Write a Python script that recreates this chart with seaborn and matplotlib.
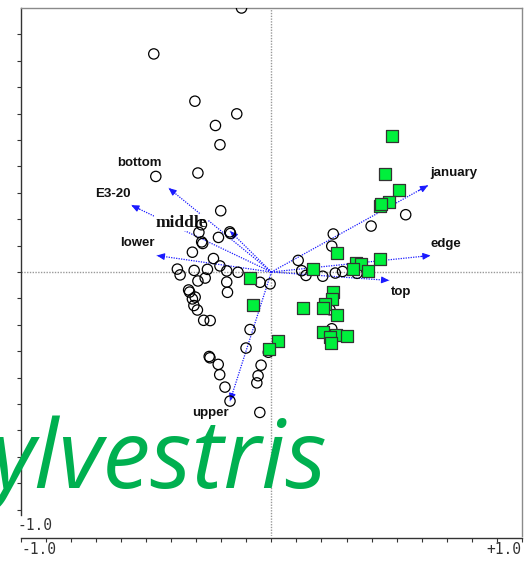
import matplotlib
matplotlib.use("Agg")
import matplotlib.pyplot as plt
import numpy as np
import pandas as pd
import seaborn as sns

# Sample scores, group 1 (open circles)
circle_x = [-0.119, -0.469, -0.305, -0.138, -0.223, -0.205, -0.461, -0.293, -0.202, -0.166,
            -0.163, -0.211, -0.279, -0.289, -0.278, -0.274, -0.315, -0.231, -0.205, -0.375,
            -0.308, -0.255, -0.178, -0.133, -0.364, -0.293, -0.264, -0.178, -0.175, -0.330,
            -0.326, -0.304, -0.315, -0.309, -0.295, -0.270, -0.244, -0.045, -0.005, -0.085,
            -0.101, -0.248, -0.245, -0.212, -0.206, -0.185, -0.165, -0.041, -0.053, -0.058,
            -0.046, -0.012, 0.536, 0.398, 0.247, 0.241, 0.107, 0.121, 0.138, 0.205,
            0.255, 0.284, 0.342, 0.234, 0.241]
circle_y = [1.000, 0.826, 0.647, 0.599, 0.555, 0.482, 0.362, 0.375, 0.232, 0.152,
            0.146, 0.131, 0.179, 0.150, 0.114, 0.108, 0.075, 0.051, 0.023, 0.011,
            0.006, 0.010, 0.004, -0.001, -0.011, -0.034, -0.023, -0.038, -0.077, -0.068,
            -0.076, -0.095, -0.102, -0.127, -0.144, -0.183, -0.184, -0.039, -0.045, -0.218,
            -0.288, -0.320, -0.325, -0.350, -0.389, -0.436, -0.489, -0.353, -0.393, -0.420,
            -0.532, -0.304, 0.217, 0.174, 0.144, 0.098, 0.044, 0.005, -0.013, -0.016,
            -0.004, 0.002, -0.005, -0.143, -0.215]

# Sample scores, group 2 (green squares)
square_x = [0.480, 0.452, 0.510, 0.470, 0.434, 0.439, 0.262, 0.433, 0.339, 0.359,
            0.326, 0.387, 0.166, 0.247, 0.241, 0.215, 0.205, 0.127, 0.262, 0.206,
            0.258, 0.232, 0.239, 0.300, 0.025, -0.011, -0.085, -0.073]
square_y = [0.514, 0.372, 0.309, 0.266, 0.250, 0.256, 0.071, 0.049, 0.033, 0.030,
            0.012, 0.004, 0.011, -0.076, -0.103, -0.122, -0.137, -0.136, -0.163, -0.228,
            -0.237, -0.248, -0.270, -0.243, -0.261, -0.290, -0.021, -0.124]

# Environmental variables (arrow tips)
var_names = ["january", "edge", "top", "upper", "lower", "E3-20", "bottom", "middle"]
var_x = [0.625, 0.635, 0.470, -0.165, -0.457, -0.559, -0.410, -0.165]
var_y = [0.328, 0.0625, -0.032, -0.489, 0.0625, 0.253, 0.318, 0.155]

# Label placement (pixel offsets from arrow tip, alignment)
label_layout = {
    "january": (2, 12, "left"),
    "edge": (0, 12, "left"),
    "top": (2, -12, "left"),
    "upper": (-20, -11.5, "center"),
    "lower": (-19, 12, "center"),
    "E3-20": (-18.5, 11.7, "center"),
    "bottom": (-29, 25.5, "center"),
    "middle": (-49, 8.5, "center"),
}

sns.set_style("white")

W, H = 529, 561
fig = plt.figure(figsize=(W / 100, H / 100), dpi=100)
ax = fig.add_axes([20.7 / W, 25 / H, 501.3 / W, 528 / H])

circles = pd.DataFrame({"x": circle_x, "y": circle_y})
squares = pd.DataFrame({"x": square_x, "y": square_y})

ax.axhline(0, color="#999999", lw=1, ls=(0, (1, 1)), zorder=1)
ax.axvline(0, color="#999999", lw=1, ls=(0, (1, 1)), zorder=1)

arrow_color = "#1a1aff"
for name, vx, vy in zip(var_names, var_x, var_y):
    ax.plot([0, vx], [0, vy], color=arrow_color, lw=0.9, ls=(0, (1, 1)), zorder=2)
    ax.annotate("", xy=(vx, vy), xytext=(vx * 0.94, vy * 0.94),
                arrowprops=dict(arrowstyle="-|>,head_length=0.45,head_width=0.2",
                                color=arrow_color, lw=0.8, shrinkA=0, shrinkB=0),
                zorder=2)
    dx, dy, ha = label_layout[name]
    if name == "middle":
        ax.annotate(name, xy=(vx, vy), xytext=(dx, dy), textcoords="offset pixels",
                    ha=ha, va="center", fontsize=12.5, fontweight="bold",
                    family="Liberation Serif", color="#111111", zorder=3,
                    bbox=dict(boxstyle="square,pad=0.05", fc="white", ec="none"))
    else:
        ax.annotate(name, xy=(vx, vy), xytext=(dx, dy), textcoords="offset pixels",
                    ha=ha, va="center", fontsize=9.5, fontweight="bold",
                    family="Liberation Sans", color="#111111", zorder=3)

sns.scatterplot(data=circles, x="x", y="y", ax=ax, marker="o", s=55,
                facecolor="none", edgecolor="black", linewidth=0.9, zorder=5)
sns.scatterplot(data=squares, x="x", y="y", ax=ax, marker="s", s=66,
                color="#00f03c", edgecolor="#333333", linewidth=0.9, zorder=6)

ax.set_xlim(-1, 1)
ax.set_ylim(-1, 1)
ax.set_xlabel("")
ax.set_ylabel("")
ax.set_xticks(np.round(np.arange(-1.0, 1.01, 0.1), 2))
ax.set_yticks(np.round(np.arange(-0.9, 0.91, 0.1), 2))
ax.set_xticklabels([])
ax.set_yticklabels([])
ax.tick_params(axis="both", direction="out", length=3, width=0.8, color="#333333",
               bottom=True, left=True)

for side in ("top", "right"):
    ax.spines[side].set_color("#8a8a8a")
    ax.spines[side].set_linewidth(1.0)
ax.spines["left"].set_color("#333333")
ax.spines["left"].set_linewidth(1.0)
ax.spines["left"].set_bounds(-0.92, 1.0)
ax.spines["bottom"].set_color("#333333")
ax.spines["bottom"].set_linewidth(1.0)
ax.spines["bottom"].set_position(("outward", 1.2))

mono = dict(family="DejaVu Sans Mono", fontsize=10.5, color="#333333")
fig.text(17 / W, 1 - 525 / H, "-1.0", ha="left", va="center", **mono)
fig.text(21 / W, 1 - 549 / H, "-1.0", ha="left", va="center", **mono)
fig.text(521 / W, 1 - 549.5 / H, "+1.0", ha="right", va="center", **mono)

fig.text(-10 / W, 1 - 488 / H, "ylvestris", ha="left", va="baseline",
         family="Open Sans", style="italic", fontsize=69, color="#00b050", zorder=10)

fig.savefig("out.png", dpi=100)
